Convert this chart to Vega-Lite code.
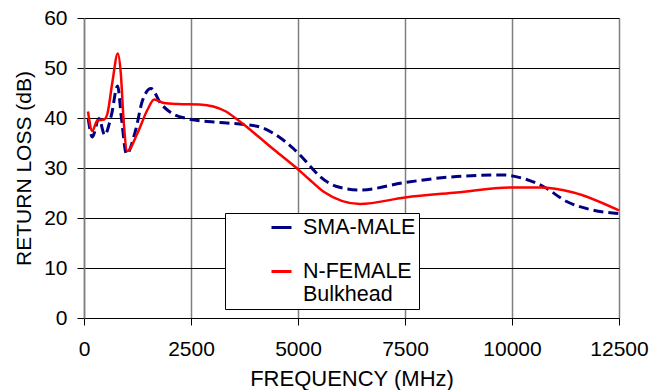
{
  "$schema": "https://vega.github.io/schema/vega-lite/v6.json",
  "width": 535,
  "height": 300,
  "autosize": "none",
  "padding": {"left": 84, "top": 18, "right": 44, "bottom": 72},
  "background": "white",
  "config": {
    "view": {"stroke": null},
    "font": "Liberation Sans",
    "axis": {"labelFont": "Liberation Sans", "titleFont": "Liberation Sans", "labelColor": "black", "titleColor": "black", "titleFontWeight": "normal", "labelFontSize": 21, "titleFontSize": 21, "tickColor": "black", "tickSize": 7}
  },
  "datasets": {
    "curves": [
      {"f": 100, "rl": 39.8, "s": "SMA-MALE"},
      {"f": 195, "rl": 36.2, "s": "SMA-MALE"},
      {"f": 350, "rl": 39.9, "s": "SMA-MALE"},
      {"f": 483, "rl": 36.6, "s": "SMA-MALE"},
      {"f": 638, "rl": 40.5, "s": "SMA-MALE"},
      {"f": 785, "rl": 46.4, "s": "SMA-MALE"},
      {"f": 875, "rl": 40.0, "s": "SMA-MALE"},
      {"f": 993, "rl": 32.8, "s": "SMA-MALE"},
      {"f": 1207, "rl": 37.6, "s": "SMA-MALE"},
      {"f": 1363, "rl": 43.4, "s": "SMA-MALE"},
      {"f": 1565, "rl": 45.9, "s": "SMA-MALE"},
      {"f": 1792, "rl": 42.9, "s": "SMA-MALE"},
      {"f": 2025, "rl": 41.1, "s": "SMA-MALE"},
      {"f": 2399, "rl": 39.9, "s": "SMA-MALE"},
      {"f": 3178, "rl": 39.1, "s": "SMA-MALE"},
      {"f": 3762, "rl": 38.7, "s": "SMA-MALE"},
      {"f": 4152, "rl": 38.1, "s": "SMA-MALE"},
      {"f": 4541, "rl": 36.3, "s": "SMA-MALE"},
      {"f": 4891, "rl": 33.9, "s": "SMA-MALE"},
      {"f": 5047, "rl": 32.6, "s": "SMA-MALE"},
      {"f": 5280, "rl": 30.4, "s": "SMA-MALE"},
      {"f": 5514, "rl": 28.3, "s": "SMA-MALE"},
      {"f": 5904, "rl": 26.3, "s": "SMA-MALE"},
      {"f": 6449, "rl": 25.6, "s": "SMA-MALE"},
      {"f": 7500, "rl": 27.1, "s": "SMA-MALE"},
      {"f": 8707, "rl": 28.3, "s": "SMA-MALE"},
      {"f": 9797, "rl": 28.6, "s": "SMA-MALE"},
      {"f": 10265, "rl": 27.9, "s": "SMA-MALE"},
      {"f": 10732, "rl": 26.3, "s": "SMA-MALE"},
      {"f": 11277, "rl": 23.3, "s": "SMA-MALE"},
      {"f": 11822, "rl": 21.7, "s": "SMA-MALE"},
      {"f": 12500, "rl": 20.9, "s": "SMA-MALE"},
      {"f": 93, "rl": 41.3, "s": "N-FEMALE Bulkhead"},
      {"f": 195, "rl": 37.4, "s": "N-FEMALE Bulkhead"},
      {"f": 311, "rl": 39.5, "s": "N-FEMALE Bulkhead"},
      {"f": 467, "rl": 39.7, "s": "N-FEMALE Bulkhead"},
      {"f": 545, "rl": 40.8, "s": "N-FEMALE Bulkhead"},
      {"f": 660, "rl": 47.0, "s": "N-FEMALE Bulkhead"},
      {"f": 790, "rl": 52.9, "s": "N-FEMALE Bulkhead"},
      {"f": 860, "rl": 48.9, "s": "N-FEMALE Bulkhead"},
      {"f": 925, "rl": 39.6, "s": "N-FEMALE Bulkhead"},
      {"f": 1012, "rl": 33.4, "s": "N-FEMALE Bulkhead"},
      {"f": 1246, "rl": 36.9, "s": "N-FEMALE Bulkhead"},
      {"f": 1480, "rl": 41.6, "s": "N-FEMALE Bulkhead"},
      {"f": 1640, "rl": 43.7, "s": "N-FEMALE Bulkhead"},
      {"f": 1869, "rl": 43.0, "s": "N-FEMALE Bulkhead"},
      {"f": 2200, "rl": 42.8, "s": "N-FEMALE Bulkhead"},
      {"f": 2700, "rl": 42.7, "s": "N-FEMALE Bulkhead"},
      {"f": 3022, "rl": 42.3, "s": "N-FEMALE Bulkhead"},
      {"f": 3294, "rl": 41.4, "s": "N-FEMALE Bulkhead"},
      {"f": 3567, "rl": 39.8, "s": "N-FEMALE Bulkhead"},
      {"f": 3820, "rl": 38.1, "s": "N-FEMALE Bulkhead"},
      {"f": 4073, "rl": 36.3, "s": "N-FEMALE Bulkhead"},
      {"f": 4463, "rl": 33.5, "s": "N-FEMALE Bulkhead"},
      {"f": 4953, "rl": 30.1, "s": "N-FEMALE Bulkhead"},
      {"f": 5241, "rl": 27.9, "s": "N-FEMALE Bulkhead"},
      {"f": 5591, "rl": 25.3, "s": "N-FEMALE Bulkhead"},
      {"f": 6449, "rl": 22.8, "s": "N-FEMALE Bulkhead"},
      {"f": 7500, "rl": 24.1, "s": "N-FEMALE Bulkhead"},
      {"f": 8707, "rl": 25.1, "s": "N-FEMALE Bulkhead"},
      {"f": 9992, "rl": 26.1, "s": "N-FEMALE Bulkhead"},
      {"f": 10654, "rl": 26.1, "s": "N-FEMALE Bulkhead"},
      {"f": 11433, "rl": 25.1, "s": "N-FEMALE Bulkhead"},
      {"f": 12500, "rl": 21.5, "s": "N-FEMALE Bulkhead"}
    ]
  },
  "data": {"name": "curves"},
  "encoding": {
    "x": {
      "field": "f", "type": "quantitative",
      "scale": {"domain": [0, 12500], "nice": false},
      "axis": {"values": [0, 2500, 5000, 7500, 10000, 12500], "format": "d", "title": "FREQUENCY (MHz)", "titleFontSize": 22, "grid": true, "gridColor": "#808080", "gridWidth": 1.5, "gridOpacity": 1, "domainColor": "black", "domainWidth": 1, "labelPadding": 13, "titleY": 60, "titleBaseline": "middle", "labelFlush": false}
    },
    "y": {
      "field": "rl", "type": "quantitative",
      "scale": {"domain": [0, 60], "nice": false},
      "axis": {"values": [0, 10, 20, 30, 40, 50, 60], "title": "RETURN LOSS (dB)", "grid": true, "gridColor": "black", "gridWidth": 1, "gridOpacity": 1, "domainColor": "#808080", "domainWidth": 1.5, "labelPadding": 10, "titleX": -60, "titleBaseline": "middle", "labelFlush": false}
    },
    "color": {
      "field": "s", "type": "nominal",
      "scale": {"domain": ["SMA-MALE", "N-FEMALE Bulkhead"], "range": ["#000080", "#FF0000"]},
      "legend": {
        "title": null,
        "orient": "none",
        "legendX": 141,
        "legendY": 195,
        "fillColor": "white",
        "strokeColor": "black",
        "padding": 3,
        "symbolOffset": 42,
        "symbolType": "stroke",
        "symbolSize": 400,
        "symbolStrokeWidth": 3,
        "labelFont": "Liberation Sans",
        "labelFontSize": 21.5,
        "labelColor": "black",
        "labelOffset": 10,
        "rowPadding": 22,
        "labelLimit": 300,
        "labelExpr": "datum.label == 'N-FEMALE Bulkhead' ? ['N-FEMALE', 'Bulkhead'] : datum.label"
      }
    }
  },
  "layer": [
    {
      "transform": [{"filter": "datum.s == 'SMA-MALE'"}],
      "mark": {"type": "line", "interpolate": "monotone", "strokeWidth": 3, "strokeDash": [10, 5]}
    },
    {
      "transform": [{"filter": "datum.s == 'N-FEMALE Bulkhead'"}],
      "mark": {"type": "line", "interpolate": "monotone", "strokeWidth": 2.5}
    }
  ]
}
